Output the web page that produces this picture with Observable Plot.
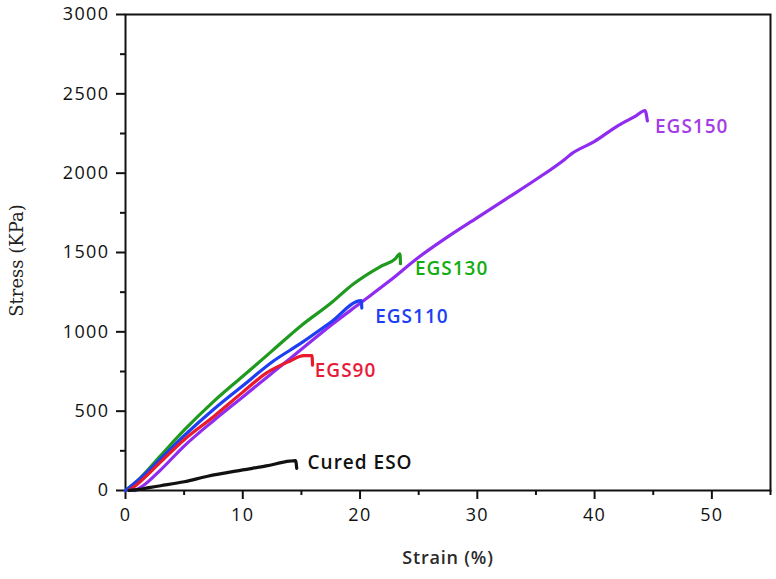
<!DOCTYPE html>
<html>
<head>
<meta charset="utf-8">
<script src="https://cdn.jsdelivr.net/npm/d3@7"></script>
<script src="https://cdn.jsdelivr.net/npm/@observablehq/plot@0.6"></script>
<style>
  html, body { margin: 0; padding: 0; background: #fff; }
  #chart { width: 776px; height: 579px; }
  #chart svg g[aria-label$="tick label"] text { letter-spacing: 1.4px; }
  #chart svg .series-label text { letter-spacing: 1px; }
  #chart svg .x-title text { letter-spacing: 0.8px; }
</style>
</head>
<body>
<div id="chart"></div>
<script>
// ---- data ----
const xTicks = [0, 10, 20, 30, 40, 50];
const xMinorTicks = [5, 15, 25, 35, 45, 55];
const yTicks = [0, 500, 1000, 1500, 2000, 2500, 3000];
const yMinorTicks = [250, 750, 1250, 1750, 2250, 2750];

const seriesNames = ["EGS150", "EGS130", "EGS110", "EGS90", "Cured ESO"];

const egs150Strain = [0.8, 1.5, 3, 5, 7.5, 10, 12.5, 15, 17.5, 20, 22.5, 25, 27.5, 30, 32.5, 35, 37.5, 38, 40, 42, 43.5, 44.3, 44.5];
const egs150Stress = [0, 30, 130, 280, 440, 590, 740, 890, 1040, 1180, 1320, 1470, 1600, 1720, 1840, 1960, 2090, 2120, 2200, 2300, 2360, 2395, 2330];

const egs130Strain = [0, 1, 3, 5, 7.5, 10, 12.5, 15, 17.5, 19.4, 21.7, 23.0, 23.4, 23.45];
const egs130Stress = [0, 60, 220, 380, 560, 720, 880, 1040, 1180, 1300, 1410, 1460, 1492, 1430];

const egs110Strain = [0, 1, 3, 5, 7.5, 10, 12.5, 15, 17.5, 20.1, 20.15];
const egs110Stress = [0, 60, 200, 345, 510, 660, 810, 930, 1060, 1197, 1150];

const egs90Strain = [0.3, 1, 3, 5, 7.5, 10, 12, 14, 15.2, 15.9, 15.95];
const egs90Stress = [0, 40, 180, 320, 465, 620, 740, 815, 850, 850, 790];

const esoStrain = [0.3, 1, 2, 3, 5, 7, 10, 12, 14, 14.5, 14.6];
const esoStress = [0, 5, 18, 30, 55, 90, 130, 155, 185, 188, 140];

// ---- styles ----
const lineColors = {"EGS150": "#8f2cf0", "EGS130": "#1f9a1f", "EGS110": "#1d3ef2", "EGS90": "#e81a2c", "Cured ESO": "#111111"};
const labelColors = {"EGS150": "#a43de6", "EGS130": "#12ad12", "EGS110": "#1d3ef2", "EGS90": "#e81a3a", "Cured ESO": "#111111"};
const labelOffsets = {"EGS150": [10, 16], "EGS130": [15, 15], "EGS110": [14, 16], "EGS90": [11, 15], "Cured ESO": [12, 2]};

const strainArrays = [egs150Strain, egs130Strain, egs110Strain, egs90Strain, esoStrain];
const stressArrays = [egs150Stress, egs130Stress, egs110Stress, egs90Stress, esoStress];

const rows = [];
const peaks = [];
seriesNames.forEach((name, i) => {
  const xs = strainArrays[i], ys = stressArrays[i];
  xs.forEach((x, j) => rows.push({series: name, strain: x, stress: ys[j]}));
  const k = d3.maxIndex(ys);
  peaks.push({series: name, strain: xs[k], stress: ys[k]});
});

const tickFont = "'Open Sans', 'DejaVu Sans', sans-serif";

const marks = [
  Plot.frame({stroke: "#111", strokeWidth: 2}),
  Plot.axisX({ticks: xTicks, tickSize: 9, tickPadding: 9, tickFormat: d => String(d), label: null, fontSize: 18, stroke: "#111", strokeWidth: 2, color: "#111"}),
  Plot.axisX({ticks: xMinorTicks, tickSize: 5, tickFormat: () => "", label: null, stroke: "#111", strokeWidth: 2}),
  Plot.axisY({ticks: yTicks, tickSize: 9, tickPadding: 7, tickFormat: d => String(d), label: null, fontSize: 18, stroke: "#111", strokeWidth: 2, color: "#111"}),
  Plot.axisY({ticks: yMinorTicks, tickSize: 5, tickFormat: () => "", label: null, stroke: "#111", strokeWidth: 2}),
  Plot.line(rows, {x: "strain", y: "stress", z: "series", stroke: d => lineColors[d.series], strokeWidth: 3.2, strokeLinejoin: "round", strokeLinecap: "round", curve: "monotone-x"}),
  ...peaks.map(p => Plot.text([p], {
    x: "strain", y: "stress", text: "series",
    dx: labelOffsets[p.series][0], dy: labelOffsets[p.series][1],
    textAnchor: "start", fill: labelColors[p.series],
    fontSize: 19, fontWeight: 600, fontFamily: tickFont, className: "series-label"
  })),
  Plot.text(["Strain (%)"], {frameAnchor: "bottom", dy: 68, textAnchor: "middle", lineAnchor: "middle", fontSize: 18, fontWeight: 600, fill: "#2a2a2a", fontFamily: tickFont, className: "x-title"}),
  Plot.text(["Stress (KPa)"], {frameAnchor: "left", dx: -108, dy: 8, textAnchor: "middle", lineAnchor: "middle", rotate: -90, fontSize: 18, fill: "#222", fontFamily: "'DejaVu Serif', 'Liberation Serif', serif"})
];

const chart = Plot.plot({
  width: 776,
  height: 579,
  marginLeft: 125,
  marginRight: 6,
  marginTop: 14,
  marginBottom: 89,
  style: {fontFamily: tickFont, background: "#fff", color: "#111", overflow: "visible"},
  x: {domain: [0, 55]},
  y: {domain: [0, 3000]},
  marks
});
document.getElementById("chart").appendChild(chart);
</script>
</body>
</html>
